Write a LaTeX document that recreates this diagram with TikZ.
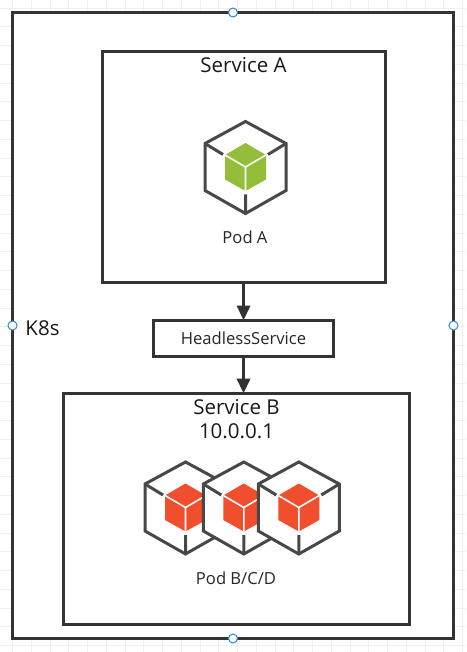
\documentclass[tikz,border=0pt]{standalone}
\usepackage{fontspec}
\setmainfont{Open Sans}
\usetikzlibrary{arrows.meta}
\definecolor{edge}{HTML}{333333}
\definecolor{iconline}{HTML}{484848}
\definecolor{gridline}{HTML}{F0F0F0}
\definecolor{handle}{HTML}{2E86D8}
\definecolor{podgreen}{HTML}{94BE39}
\definecolor{podred}{HTML}{F04E2C}
\tikzset{
  container/.style={draw=edge,line width=3pt,fill=white,rectangle,minimum width=#1,inner sep=0pt,outer sep=0pt,anchor=north west},
  titletext/.style={font=\fontsize{20.5}{24}\selectfont,text=black!90,align=center,inner sep=0pt},
  smalltext/.style={font=\fontsize{16.6}{20}\selectfont,text=black!85,inner sep=0pt},
  flow/.style={draw=edge,line width=3.4pt,-{Triangle[length=15pt,width=13pt]}},
  handlemark/.style={circle,draw=handle,fill=white,line width=1pt,minimum size=9pt,inner sep=0pt},
  pics/pod/.style={code={
    \fill[white] (0,-46) -- (40.5,-24) -- (40.5,23) -- (0,46) -- (-40.5,23) -- (-40.5,-24) -- cycle;
    \fill[#1] (0,-24.5) -- (20.5,-12.5) -- (20.5,12) -- (0,23.5) -- (-20.5,12) -- (-20.5,-12.5) -- cycle;
    \draw[white,line width=1.6pt] (-20.5,-12.5) -- (0,-0.5) -- (20.5,-12.5) (0,-0.5) -- (0,23.5);
    \draw[iconline,line width=3pt,line join=miter] (0,-46) -- (40.5,-24) -- (40.5,23) -- (0,46) -- (-40.5,23) -- (-40.5,-24) -- cycle;
    \draw[iconline,line width=3pt] (-40.5,-24) -- (-22.5,-13) (40.5,-24) -- (22.5,-13) (0,46) -- (0,27);
  }}
}
\begin{document}
\begin{tikzpicture}[x=1pt,y=-1pt]
\useasboundingbox (0,0) rectangle (466,652);
\fill[white] (0,0) rectangle (466,652);
\foreach \k in {0,...,24} \draw[gridline,line width=1pt] ({12.7+18.75*\k},0) -- ({12.7+18.75*\k},652);
\foreach \k in {0,...,34} \draw[gridline,line width=1pt] (0,{8.2+18.75*\k}) -- (466,{8.2+18.75*\k});
\node[container=441pt,minimum height=626pt] (k8s) at (12.5,12.5) {};
\node[container=283pt,minimum height=231pt] (sa) at (102.5,51.5) {};
\node[container=180.5pt,minimum height=36pt] (hs) at (153.3,320.5) {};
\node[container=346pt,minimum height=231pt] (sb) at (63.5,393.5) {};
\draw[flow] (sa.south -| hs.north) -- (hs.north);
\draw[flow] (hs.south) -- (hs.south |- sb.north);
\node[titletext] (tsa) at (243.5,65.5) {Service A};
\node[titletext] (tk8s) at (42.5,328) {K8s};
\node[titletext] (tsb) at (236.5,419.5) {Service B\\10.0.0.1};
\node[smalltext] (ths) at (243.5,338.5) {HeadlessService};
\pic at (245.5,167.5) {pod=podgreen};
\node[smalltext] (tpa) at (245,237) {Pod A};
\pic at (185.5,508) {pod=podred};
\pic at (243.8,508) {pod=podred};
\pic at (298.8,508) {pod=podred};
\node[smalltext] (tpb) at (236,578) {Pod B/C/D};
\node[handlemark] (h1) at (k8s.north) {};
\node[handlemark] (h2) at (k8s.west) {};
\node[handlemark] (h3) at (k8s.east) {};
\node[handlemark] (h4) at (k8s.south) {};
\end{tikzpicture}
\end{document}
